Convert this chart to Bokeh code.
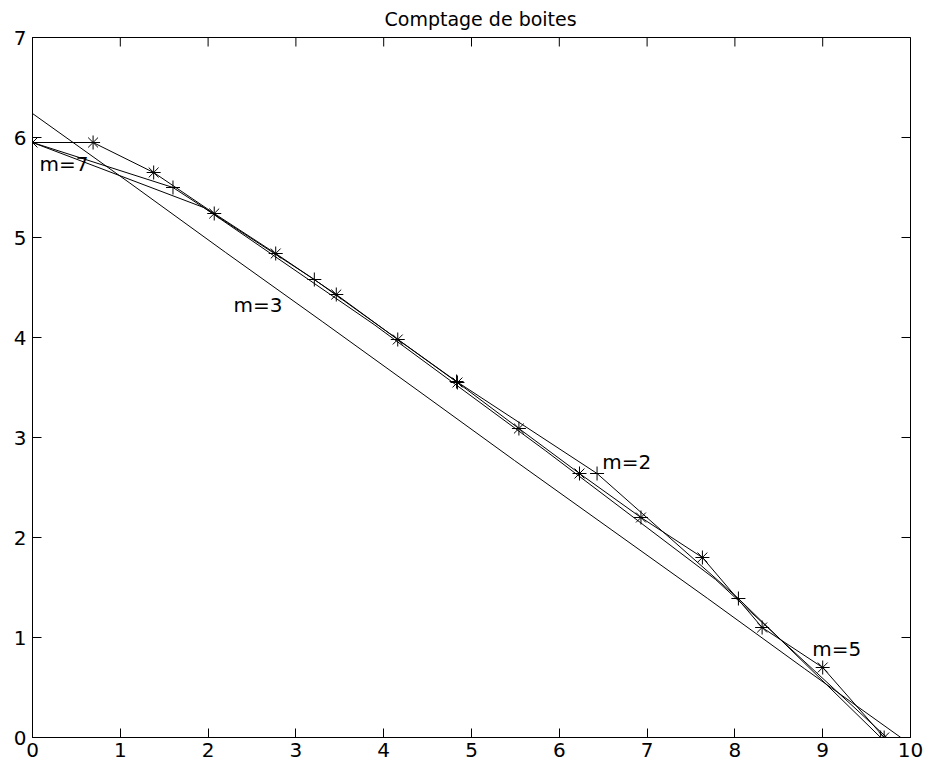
import math
from bokeh.plotting import figure
from bokeh.models import Range1d, FixedTicker, Label
from bokeh.embed import file_html
from bokeh.resources import INLINE

# ---- data ----
# m=2 series ('*' markers)
x_m2 = [0.0, 0.69, 1.38, 2.07, 2.77, 3.46, 4.16, 4.84, 5.54, 6.23, 6.93, 7.63, 8.31, 9.0, 9.70]
y_m2 = [5.95, 5.95, 5.65, 5.24, 4.84, 4.43, 3.98, 3.55, 3.09, 2.64, 2.20, 1.80, 1.10, 0.70, 0.0]

# m=3 series (plain line)
x_m3 = [0.0, 1.10, 2.20, 3.30, 4.39, 5.49, 6.59, 7.69, 8.79, 9.89]
y_m3 = [6.24, 5.55, 4.85, 4.16, 3.47, 2.77, 2.08, 1.39, 0.69, 0.0]

# m=5 series ('+' markers)
x_m5 = [0.0, 1.60, 3.21, 4.83, 6.43, 8.04, 9.66]
y_m5 = [5.95, 5.50, 4.58, 3.56, 2.64, 1.39, 0.0]

# m=7 series (plain line)
x_m7 = [0.0, 1.95, 3.89, 5.84, 7.78, 9.73]
y_m7 = [5.95, 5.30, 4.13, 2.87, 1.58, 0.0]

x_ticks = [0, 1, 2, 3, 4, 5, 6, 7, 8, 9, 10]
y_ticks = [0, 1, 2, 3, 4, 5, 6, 7]
x_min, x_max = 0, 10
y_min, y_max = 0, 7

labels = ["m=7", "m=3", "m=2", "m=5"]
label_x = [0.08, 2.29, 6.49, 8.88]
label_y = [5.74, 4.33, 2.76, 0.89]

title = "Comptage de boites"

FONT = "DejaVu Sans"
FS = "20px"

p = figure(width=924, height=765, x_range=Range1d(x_min, x_max), y_range=Range1d(y_min, y_max),
           output_backend="svg", toolbar_location=None,
           min_border_left=32, min_border_right=14, min_border_top=37, min_border_bottom=28)
p.title.text = title
p.title.align = "left"
p.title.offset = 352
p.title.vertical_align = "top"
p.title.text_font = FONT
p.title.text_font_size = "19px"
p.title.text_font_style = "normal"
p.title.text_color = "black"
p.title.text_line_height = 1.0
p.title.standoff = 12

p.xgrid.visible = False
p.ygrid.visible = False
p.outline_line_color = "black"
p.outline_line_width = 1
p.background_fill_color = "white"
p.border_fill_color = "white"

def style_axis(ax, ticks):
    ax.ticker = FixedTicker(ticks=ticks)
    ax.major_tick_in = 9
    ax.major_tick_out = 0
    ax.minor_tick_line_color = None
    ax.axis_line_color = "black"
    ax.major_tick_line_color = "black"
    ax.major_label_text_font = FONT
    ax.major_label_text_color = "black"
    ax.major_label_text_font_size = FS

style_axis(p.xaxis[0], x_ticks)
style_axis(p.yaxis[0], y_ticks)
p.xaxis[0].major_label_standoff = 5
p.yaxis[0].major_label_standoff = 6

# inward ticks on the top and right edges of the box (clipped to the frame)
p.scatter(x_ticks, [y_max] * len(x_ticks), marker="dash", size=18, angle=math.pi / 2,
          line_color="black", line_width=1)
p.scatter([x_max] * len(y_ticks), y_ticks, marker="dash", size=18,
          line_color="black", line_width=1)

lw = 1
p.line(x_m3, y_m3, line_color="black", line_width=lw)
p.line(x_m7, y_m7, line_color="black", line_width=lw)
p.line(x_m5, y_m5, line_color="black", line_width=lw)
p.scatter(x_m5, y_m5, marker="cross", size=14, line_color="black", line_width=lw)
p.line(x_m2, y_m2, line_color="black", line_width=lw)
p.scatter(x_m2, y_m2, marker="asterisk", size=14, line_color="black", line_width=lw)

for t, lx, ly in zip(labels, label_x, label_y):
    p.add_layout(Label(x=lx, y=ly, text=t, text_font=FONT, text_font_size=FS,
                       text_baseline="middle", text_align="left", text_color="black"))

open("out.html", "w").write(file_html(p, INLINE))
